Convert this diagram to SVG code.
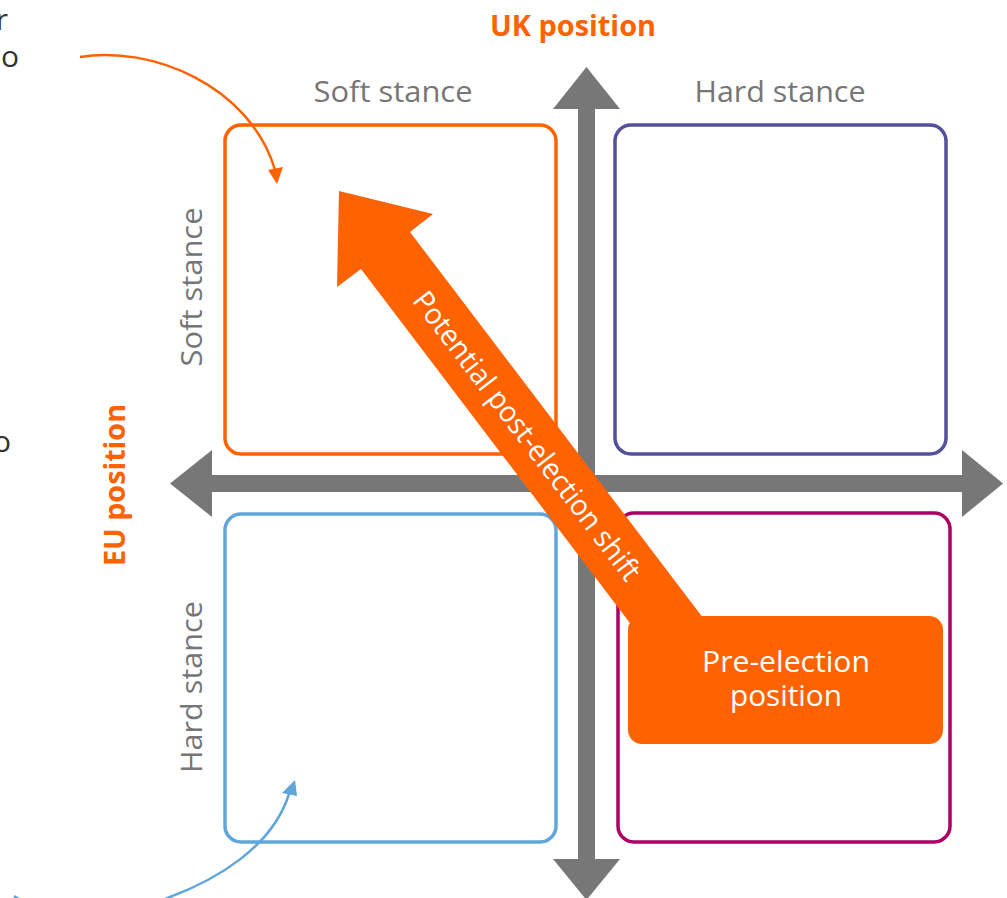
<svg xmlns="http://www.w3.org/2000/svg" width="1007" height="898" viewBox="0 0 1007 898">
  <style>
    .box { fill: none; stroke-width: 3.5; }
    .lbl { font-family: "Open Sans", "Liberation Sans", sans-serif; font-size: 30px; fill: #767676; font-weight: 400; text-anchor: middle; }
    .axis-title { font-family: "Open Sans", "Liberation Sans", sans-serif; font-size: 29px; fill: #FF6200; font-weight: 700; text-anchor: middle; }
    .frag { font-family: "Open Sans", "Liberation Sans", sans-serif; font-size: 30px; fill: #333333; text-anchor: end; }
    .white { font-family: "Open Sans", "Liberation Sans", sans-serif; font-size: 29px; fill: #ffffff; font-weight: 400; text-anchor: middle; }
    .axis { fill: #777777; }
    .curve { fill: none; stroke-width: 2.5; }
  </style>
  <rect width="1007" height="898" fill="#ffffff"/>

  <!-- cropped annotation fragments -->
  <g id="fragments">
    <text class="frag" x="8" y="30">r</text>
    <text class="frag" x="19" y="67">o</text>
    <text class="frag" x="11" y="452">o</text>
  </g>

  <!-- quadrant boxes -->
  <g id="q-soft-soft"><rect class="box" x="225" y="125" width="331" height="329" rx="16" stroke="#FF6200"/></g>
  <g id="q-hard-soft"><rect class="box" x="615" y="125" width="331" height="329" rx="16" stroke="#525199"/></g>
  <g id="q-soft-hard"><rect class="box" x="225" y="514" width="331" height="328" rx="16" stroke="#60A6DA"/></g>
  <g id="q-hard-hard"><rect class="box" x="618" y="513" width="332" height="329" rx="16" stroke="#AB0066"/></g>

  <!-- axes -->
  <g id="axes">
    <rect class="axis" x="578" y="108" width="17" height="752"/>
    <polygon class="axis" points="553,109 586.5,67 620,109"/>
    <polygon class="axis" points="553,859 586.5,900 620,859"/>
    <rect class="axis" x="211" y="475" width="752" height="17"/>
    <polygon class="axis" points="212,450 170,483.5 212,517"/>
    <polygon class="axis" points="962,450 1003,483.5 962,517"/>
  </g>

  <!-- labels -->
  <g id="label-uk"><text class="axis-title" x="573" y="36" textLength="166" lengthAdjust="spacingAndGlyphs">UK position</text></g>
  <g id="label-eu"><text class="axis-title" transform="translate(125,485) rotate(-90)" x="0" y="0" textLength="162" lengthAdjust="spacingAndGlyphs">EU position</text></g>
  <g id="label-uk-soft"><text class="lbl" x="393" y="102" textLength="159" lengthAdjust="spacingAndGlyphs">Soft stance</text></g>
  <g id="label-uk-hard"><text class="lbl" x="780" y="102" textLength="171" lengthAdjust="spacingAndGlyphs">Hard stance</text></g>
  <g id="label-eu-soft"><text class="lbl" transform="translate(202,287) rotate(-90)" x="0" y="0" textLength="159" lengthAdjust="spacingAndGlyphs">Soft stance</text></g>
  <g id="label-eu-hard"><text class="lbl" transform="translate(202,687) rotate(-90)" x="0" y="0" textLength="172" lengthAdjust="spacingAndGlyphs">Hard stance</text></g>

  <!-- connectors -->
  <g id="connectors">
    <g id="shift-arrow">
      <polygon fill="#FF6200" points="339,191 433,214 410,232 735,660 658,660 361,269 337,287"/>
      <text class="white" transform="translate(527,436) rotate(52.7)" x="0" y="10" textLength="355" lengthAdjust="spacingAndGlyphs">Potential post-election shift</text>
    </g>
    <g id="orange-pointer">
      <path class="curve" stroke="#FF6200" d="M80,57 C150,45 250,85 275,170"/>
      <polygon fill="#FF6200" points="268,170 283,167 277,184"/>
    </g>
    <g id="blue-pointer">
      <path class="curve" stroke="#60A6DA" d="M14,896 C40,915 130,915 170,897 C215,880 272,848 289,794"/>
      <polygon fill="#60A6DA" points="282,793 297,796 295,780"/>
    </g>
  </g>

  <!-- pre-election node -->
  <g id="pre-election">
    <rect x="628" y="616" width="315" height="128" rx="14" fill="#FF6200"/>
    <text class="white" x="786" y="672" font-size="29" textLength="168" lengthAdjust="spacingAndGlyphs">Pre-election</text>
    <text class="white" x="786" y="706" font-size="29" textLength="112" lengthAdjust="spacingAndGlyphs">position</text>
  </g>
</svg>
